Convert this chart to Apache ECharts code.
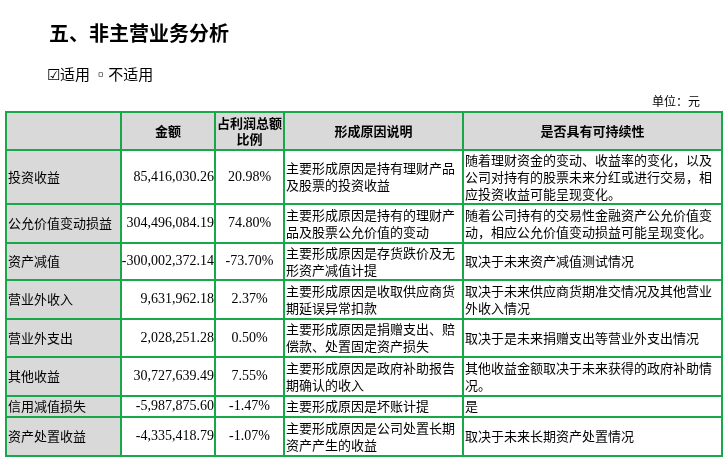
<!DOCTYPE html>
<html><head><meta charset="utf-8">
<script src="https://cdn.jsdelivr.net/npm/echarts@6/dist/echarts.min.js"></script>
<style>html,body{margin:0;padding:0;background:#fff}#c{width:727px;height:466px}</style>
</head><body><div id="c"></div>
<script>
const headers = ['', '金额', '占利润总额\n比例', '形成原因说明', '是否具有可持续性'];
const items = ['投资收益','公允价值变动损益','资产减值','营业外收入','营业外支出','其他收益','信用减值损失','资产处置收益'];
const amounts = ['85,416,030.26','304,496,084.19','-300,002,372.14','9,631,962.18','2,028,251.28','30,727,639.49','-5,987,875.60','-4,335,418.79'];
const ratios = ['20.98%','74.80%','-73.70%','2.37%','0.50%','7.55%','-1.47%','-1.07%'];
const reasons = ['主要形成原因是持有理财产品及股票的投资收益','主要形成原因是持有的理财产品及股票公允价值的变动','主要形成原因是存货跌价及无形资产减值计提','主要形成原因是收取供应商货期延误异常扣款','主要形成原因是捐赠支出、赔偿款、处置固定资产损失','主要形成原因是政府补助报告期确认的收入','主要形成原因是坏账计提','主要形成原因是公司处置长期资产产生的收益'];
const sustain = ['随着理财资金的变动、收益率的变化，以及公司对持有的股票未来分红或进行交易，相应投资收益可能呈现变化。','随着公司持有的交易性金融资产公允价值变动，相应公允价值变动损益可能呈现变化。','取决于未来资产减值测试情况','取决于未来供应商货期准交情况及其他营业外收入情况','取决于是未来捐赠支出等营业外支出情况','其他收益金额取决于未来获得的政府补助情况。','是','取决于未来长期资产处置情况'];

const colW = [115, 94, 69, 179, 259];
const rowH = [38, 54, 39, 37, 39, 38, 39, 21, 39];
const colE = [0]; colW.forEach(w => colE.push(colE[colE.length-1] + w));
const rowE = [0]; rowH.forEach(h => rowE.push(rowE[rowE.length-1] + h));

const cells = [];
headers.forEach((h, c) => cells.push([c, 0, h]));
items.forEach((it, i) => {
  const r = i + 1;
  [it, amounts[i], ratios[i], reasons[i], sustain[i]].forEach((t, c) => cells.push([c, r, t]));
});
const aligns = ['left','right','center','left','left'];
const green = '#17a84a';
const FONT = '"Noto Sans CJK SC", "Liberation Serif", serif';
const NUMFONT = '"Liberation Serif", serif';

const chart = echarts.init(document.getElementById('c'));
chart.setOption({
  animation: false,
  title: [
    {text: '五、非主营业务分析', left: 44, top: 18, textStyle: {fontSize: 20, fontWeight: 'bold', color: '#000', fontFamily: FONT}},
    {text: '☑适用 ▫不适用', left: 42, top: 62, textStyle: {fontSize: 15, fontWeight: 'normal', color: '#000', fontFamily: FONT}},
    {text: '单位：元', right: 22, top: 90, textStyle: {fontSize: 12, fontWeight: 'normal', color: '#000', fontFamily: FONT}}
  ],
  grid: {left: 6, top: 112, width: colE[colE.length-1], height: rowE[rowE.length-1]},
  xAxis: {type: 'value', min: 0, max: colE[colE.length-1], show: false},
  yAxis: {type: 'value', min: 0, max: rowE[rowE.length-1], inverse: true, show: false},
  series: [{
    type: 'custom',
    data: cells,
    renderItem: function (params, api) {
      const c = api.value(0), r = api.value(1);
      const t = cells[params.dataIndex][2];
      const p0 = api.coord([colE[c], rowE[r]]);
      const p1 = api.coord([colE[c+1], rowE[r+1]]);
      const w = p1[0] - p0[0], h = p1[1] - p0[1];
      const header = r === 0;
      const gray = header || c === 0;
      const num = !header && (c === 1 || c === 2);
      const align = header ? 'center' : aligns[c];
      let tx = align === 'left' ? p0[0] + 2 : align === 'right' ? p1[0] - 1 : p0[0] + w / 2;
      const st = {text: t, align: align, verticalAlign: 'middle',
             font: (header ? 'bold 13px ' : num ? '14px ' : '13px ') + (num ? NUMFONT : FONT),
             lineHeight: header ? 16 : 17, fill: '#000'};
      if (!num) { st.width = w - 3; st.overflow = 'break'; }
      return {
        type: 'group',
        children: [
          {type: 'rect', shape: {x: p0[0], y: p0[1], width: w, height: h},
           style: {fill: gray ? '#d9d9d9' : '#fff', stroke: green, lineWidth: 2}},
          {type: 'text', x: tx, y: p0[1] + h / 2, style: st}
        ]
      };
    }
  }]
});
</script></body></html>
